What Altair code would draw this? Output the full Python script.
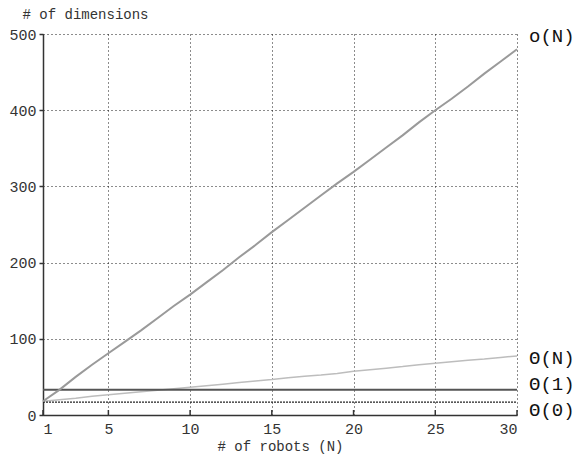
import altair as alt
import pandas as pd

N = list(range(1, 31))
o_N = [18, 33, 50, 66, 81, 96, 111, 127, 143, 158, 174, 190, 207, 223, 240,
       256, 272, 288, 304, 319, 335, 351, 367, 384, 400, 415, 431, 448, 464, 480]
theta_N = [18, 20, 22, 24.5, 26.5, 28.5, 30.5, 32.5, 34.5, 36.5, 38.5, 40.5, 42.5, 44.5, 46.5,
           49, 51, 52.5, 54.5, 57.5, 59.5, 61.5, 63.5, 66, 68, 70, 72, 73.5, 75.5, 77.5]
theta_1 = [33] * 30
theta_0 = [17] * 30

series_names = ["o(N)", "Θ(N)", "Θ(1)", "Θ(0)"]
label_y = [497, 75, 41, 7]
x_ticks = [1, 5, 10, 15, 20, 25, 30]
y_ticks = [0, 100, 200, 300, 400, 500]

rows = []
for name, vals in zip(series_names, [o_N, theta_N, theta_1, theta_0]):
    for n, v in zip(N, vals):
        rows.append({"N": n, "value": v, "series": name})
df = pd.DataFrame(rows)
labels = pd.DataFrame({"series": series_names, "N": [30] * 4, "value": label_y})
ticks = pd.DataFrame({"N": x_ticks})

W, H = 474, 381
FONT = "Liberation Mono"

xs = alt.Scale(domain=[1, 30], nice=False)
ys = alt.Scale(domain=[0, 500], nice=False)

x_axis = alt.Axis(values=x_ticks, title="# of robots (N)", grid=True, ticks=False,
                  labelPadding=6, titlePadding=3)
y_axis = alt.Axis(values=y_ticks, title="# of dimensions", grid=True, tickSize=4,
                  titleAngle=0, titleAlign="left", titleX=-21, titleY=-16,
                  titleBaseline="alphabetic", labelPadding=3)

colors = alt.Scale(domain=series_names, range=["#9a9a9a", "#bdbdbd", "#555555", "#222222"])


def line(name, width, dash=None):
    m = alt.Chart(df).transform_filter(alt.datum.series == name)
    props = {"strokeWidth": width}
    if dash:
        props["strokeDash"] = dash
    return m.mark_line(**props).encode(
        x=alt.X("N:Q", scale=xs, axis=x_axis),
        y=alt.Y("value:Q", scale=ys, axis=y_axis),
        color=alt.Color("series:N", scale=colors, legend=None),
    )

l_o = line("o(N)", 2)
l_tn = line("Θ(N)", 1.5)
l_t1 = line("Θ(1)", 2)
l_t0 = line("Θ(0)", 1.3, [2, 1])

tick_rules = alt.Chart(ticks).mark_rule(color="#333333", strokeWidth=1.5).encode(
    x=alt.X("N:Q", scale=xs),
    y=alt.value(H),
    y2=alt.value(H - 5),
)

text = alt.Chart(labels).mark_text(align="left", dx=12, font=FONT, fontSize=19,
                                   color="#111111", baseline="middle").encode(
    x=alt.X("N:Q", scale=xs),
    y=alt.Y("value:Q", scale=ys),
    text="series:N",
)

chart = alt.layer(l_tn, l_t0, l_t1, l_o, tick_rules, text).properties(
    width=W, height=H,
    autosize=alt.AutoSizeParams(type="none"),
    padding={"left": 35, "top": 26, "right": 57, "bottom": 46},
).configure_view(stroke=None).configure_axis(
    labelFont=FONT, titleFont=FONT, labelFontSize=15, titleFontSize=14,
    labelColor="#333333", titleColor="#333333", titleFontWeight="normal",
    domainColor="#333333", domainWidth=1.5, tickColor="#333333", tickWidth=1.5,
    gridColor="#000000", gridDash=[1, 3], gridOpacity=0.9, gridWidth=1,
)

chart.save("out.html", embed_options={"renderer": "svg", "actions": False})
